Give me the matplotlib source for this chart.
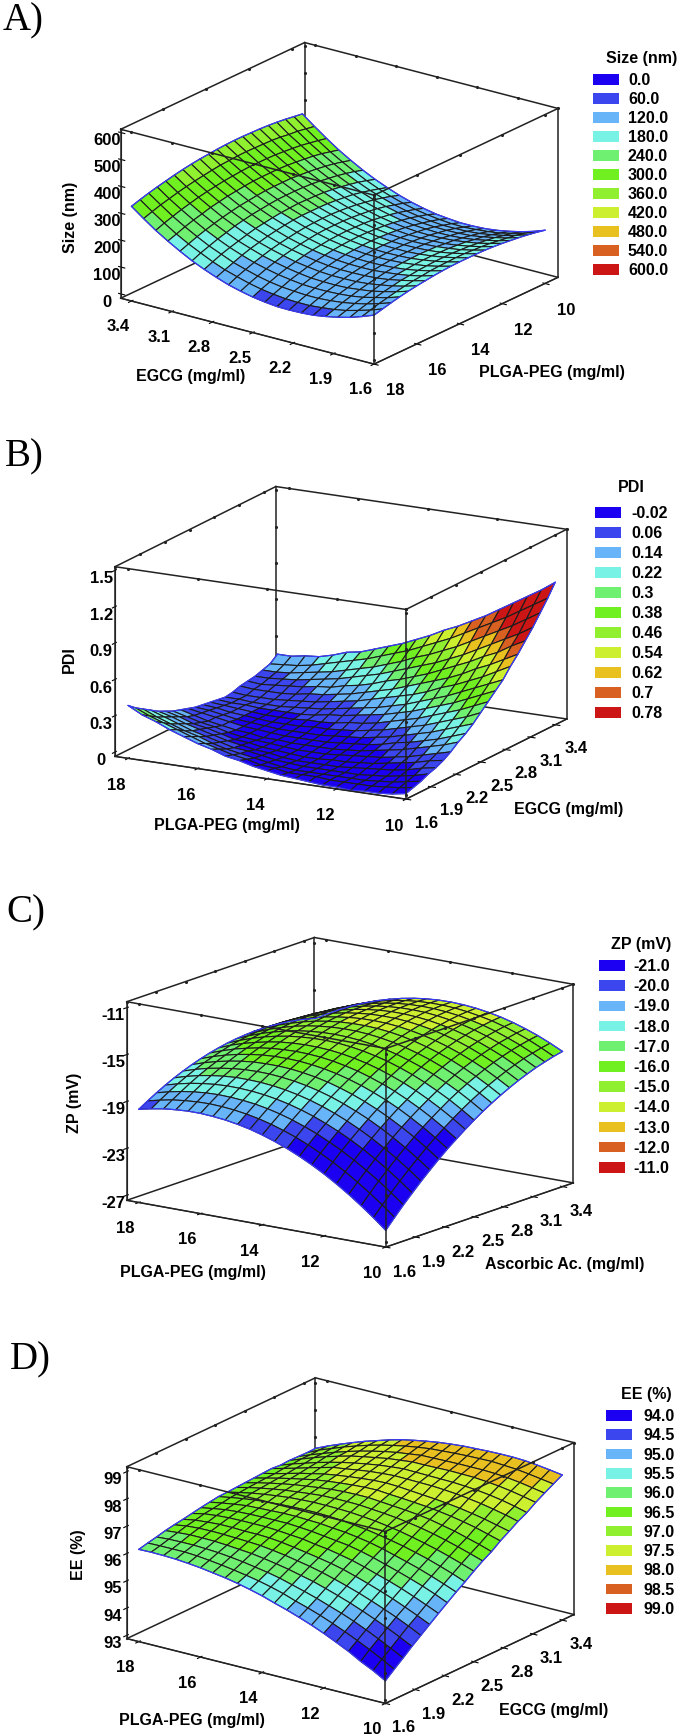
import matplotlib
matplotlib.use("Agg")
import matplotlib.pyplot as plt
import numpy as np
from matplotlib.colors import BoundaryNorm, ListedColormap
from matplotlib.patches import Patch
from mpl_toolkits.mplot3d import proj3d

W, H = 681, 1734
plt.rcParams['font.family'] = ['Liberation Sans', 'DejaVu Sans']
plt.rcParams['font.weight'] = 'bold'
plt.rcParams['font.size'] = 11

band_colors = ['#1c00f2', '#3c46ee', '#68b4f8', '#78f2e4', '#70f070', '#70f020',
               '#90f030', '#ccf030', '#e8c020', '#d86020', '#cc1515']

# surfaces, one row per y step, one column per x step
egcg_grid = [1.6, 1.69, 1.78, 1.87, 1.96, 2.05, 2.14, 2.23, 2.32, 2.41, 2.5,
             2.59, 2.68, 2.77, 2.86, 2.95, 3.04, 3.13, 3.22, 3.31, 3.4]
plga_grid = [10, 10.4, 10.8, 11.2, 11.6, 12, 12.4, 12.8, 13.2, 13.6, 14,
             14.4, 14.8, 15.2, 15.6, 16, 16.4, 16.8, 17.2, 17.6, 18]
size_nm = [
    [182, 166, 153, 143, 135, 130, 128, 128, 132, 137, 146, 157, 171, 188, 207, 229, 254, 281, 312, 345, 380],
    [189, 174, 162, 151, 145, 141, 138, 139, 143, 149, 157, 168, 182, 198, 217, 239, 263, 289, 319, 351, 385],
    [195, 181, 169, 160, 153, 149, 148, 148, 152, 158, 166, 177, 191, 207, 226, 247, 271, 297, 325, 357, 390],
    [200, 186, 176, 167, 160, 157, 156, 157, 160, 167, 175, 186, 199, 215, 233, 254, 277, 303, 331, 360, 394],
    [204, 191, 181, 172, 166, 163, 162, 164, 167, 173, 182, 193, 205, 222, 239, 259, 282, 307, 335, 365, 397],
    [208, 196, 185, 178, 172, 169, 168, 169, 173, 179, 187, 198, 211, 226, 244, 264, 286, 311, 338, 368, 399],
    [211, 199, 189, 181, 175, 173, 172, 173, 177, 183, 192, 202, 215, 230, 248, 268, 289, 314, 341, 369, 400],
    [213, 201, 191, 184, 179, 176, 175, 177, 180, 186, 195, 205, 218, 233, 250, 270, 292, 316, 342, 370, 401],
    [214, 203, 193, 185, 180, 178, 177, 178, 182, 188, 196, 207, 220, 234, 251, 271, 292, 316, 342, 371, 401],
    [214, 203, 193, 186, 181, 178, 178, 179, 183, 189, 197, 207, 220, 234, 252, 271, 292, 316, 342, 370, 400],
    [214, 202, 193, 186, 180, 178, 177, 178, 182, 188, 196, 207, 219, 234, 250, 270, 291, 315, 340, 368, 398],
    [213, 201, 191, 184, 179, 176, 175, 176, 180, 186, 194, 205, 217, 232, 248, 267, 288, 312, 337, 366, 395],
    [211, 199, 189, 181, 176, 173, 172, 173, 177, 183, 190, 201, 213, 228, 244, 263, 284, 308, 334, 362, 392],
    [208, 195, 185, 178, 173, 169, 168, 169, 172, 178, 186, 196, 208, 223, 239, 259, 280, 304, 329, 357, 388],
    [204, 192, 182, 173, 167, 164, 163, 163, 166, 172, 180, 190, 202, 217, 234, 253, 274, 298, 324, 352, 383],
    [200, 187, 176, 168, 161, 157, 156, 156, 159, 165, 172, 183, 195, 209, 226, 246, 267, 292, 318, 346, 377],
    [195, 181, 170, 160, 154, 149, 147, 148, 150, 156, 164, 174, 186, 201, 217, 237, 259, 283, 310, 339, 370],
    [189, 174, 163, 152, 145, 141, 139, 139, 141, 147, 154, 164, 176, 191, 208, 228, 250, 275, 302, 331, 363],
    [182, 167, 154, 144, 136, 131, 128, 128, 131, 135, 142, 152, 165, 179, 198, 217, 240, 265, 292, 323, 355],
    [174, 158, 145, 133, 125, 120, 116, 116, 118, 123, 130, 140, 153, 167, 185, 206, 228, 253, 282, 313, 346],
    [166, 149, 134, 123, 114, 107, 104, 103, 104, 109, 116, 126, 138, 154, 172, 192, 216, 242, 270, 302, 336]]
# PDI: columns run over plga_grid, rows over egcg_grid
pdi = [
    [0.01, -0.01, -0.02, -0.02, -0.03, -0.02, -0.02, -0.01, 0.00, 0.01, 0.03, 0.05, 0.08, 0.10, 0.14, 0.17, 0.21, 0.25, 0.30, 0.34, 0.40],
    [0.03, 0.01, 0.00, -0.01, -0.01, -0.01, -0.01, 0.00, 0.00, 0.00, 0.02, 0.03, 0.06, 0.08, 0.11, 0.14, 0.18, 0.22, 0.26, 0.30, 0.35],
    [0.05, 0.03, 0.01, 0.00, -0.01, -0.01, -0.01, -0.01, -0.01, -0.01, 0.00, 0.02, 0.04, 0.06, 0.08, 0.11, 0.15, 0.18, 0.22, 0.26, 0.31],
    [0.08, 0.05, 0.03, 0.01, 0.00, -0.01, -0.01, -0.01, -0.01, -0.01, 0.00, 0.01, 0.03, 0.05, 0.06, 0.09, 0.12, 0.15, 0.19, 0.23, 0.27],
    [0.10, 0.08, 0.05, 0.03, 0.02, 0.01, 0.00, -0.01, -0.01, -0.01, -0.01, 0.00, 0.02, 0.03, 0.05, 0.07, 0.10, 0.13, 0.16, 0.20, 0.23],
    [0.13, 0.11, 0.08, 0.06, 0.04, 0.02, 0.01, 0.00, 0.00, -0.01, -0.01, 0.00, 0.01, 0.02, 0.04, 0.05, 0.08, 0.11, 0.13, 0.17, 0.20],
    [0.17, 0.14, 0.11, 0.08, 0.06, 0.04, 0.03, 0.02, 0.01, 0.00, 0.00, 0.00, 0.01, 0.02, 0.03, 0.04, 0.06, 0.09, 0.11, 0.14, 0.17],
    [0.22, 0.18, 0.15, 0.12, 0.09, 0.07, 0.05, 0.03, 0.02, 0.01, 0.01, 0.01, 0.01, 0.02, 0.02, 0.04, 0.05, 0.07, 0.09, 0.12, 0.15],
    [0.26, 0.22, 0.18, 0.15, 0.12, 0.10, 0.07, 0.05, 0.04, 0.03, 0.02, 0.02, 0.02, 0.02, 0.03, 0.04, 0.05, 0.07, 0.09, 0.11, 0.13],
    [0.31, 0.27, 0.23, 0.19, 0.16, 0.13, 0.10, 0.08, 0.06, 0.05, 0.04, 0.03, 0.03, 0.03, 0.03, 0.04, 0.05, 0.06, 0.08, 0.10, 0.11],
    [0.37, 0.32, 0.28, 0.24, 0.20, 0.17, 0.14, 0.11, 0.09, 0.07, 0.06, 0.05, 0.05, 0.04, 0.04, 0.04, 0.05, 0.06, 0.07, 0.09, 0.10],
    [0.43, 0.38, 0.33, 0.29, 0.25, 0.21, 0.18, 0.15, 0.12, 0.10, 0.09, 0.07, 0.06, 0.06, 0.05, 0.05, 0.05, 0.06, 0.07, 0.08, 0.09],
    [0.49, 0.44, 0.39, 0.34, 0.30, 0.26, 0.22, 0.19, 0.16, 0.14, 0.12, 0.10, 0.09, 0.07, 0.06, 0.06, 0.06, 0.06, 0.07, 0.07, 0.08],
    [0.55, 0.50, 0.45, 0.40, 0.35, 0.31, 0.27, 0.23, 0.20, 0.17, 0.15, 0.13, 0.11, 0.09, 0.08, 0.07, 0.06, 0.06, 0.06, 0.07, 0.07],
    [0.63, 0.57, 0.51, 0.46, 0.41, 0.37, 0.32, 0.28, 0.25, 0.22, 0.19, 0.16, 0.14, 0.12, 0.10, 0.09, 0.08, 0.07, 0.07, 0.07, 0.08],
    [0.70, 0.64, 0.58, 0.53, 0.47, 0.42, 0.38, 0.34, 0.30, 0.26, 0.23, 0.20, 0.17, 0.15, 0.13, 0.12, 0.10, 0.09, 0.09, 0.09, 0.10],
    [0.78, 0.72, 0.65, 0.60, 0.54, 0.49, 0.44, 0.39, 0.35, 0.31, 0.28, 0.24, 0.21, 0.19, 0.16, 0.15, 0.13, 0.12, 0.11, 0.10, 0.11],
    [0.86, 0.79, 0.73, 0.67, 0.61, 0.55, 0.50, 0.45, 0.41, 0.37, 0.33, 0.29, 0.26, 0.23, 0.20, 0.18, 0.16, 0.14, 0.13, 0.12, 0.12],
    [0.95, 0.88, 0.81, 0.75, 0.69, 0.63, 0.57, 0.52, 0.47, 0.43, 0.38, 0.34, 0.30, 0.27, 0.24, 0.21, 0.19, 0.17, 0.15, 0.14, 0.14],
    [1.04, 0.97, 0.90, 0.83, 0.77, 0.71, 0.65, 0.59, 0.54, 0.49, 0.44, 0.40, 0.36, 0.32, 0.29, 0.26, 0.23, 0.20, 0.18, 0.17, 0.16],
    [1.14, 1.06, 0.99, 0.92, 0.85, 0.78, 0.72, 0.66, 0.61, 0.55, 0.50, 0.45, 0.41, 0.37, 0.33, 0.31, 0.27, 0.24, 0.23, 0.21, 0.21]]
zp_mv = [
    [-26.0, -25.11, -24.28, -23.51, -22.80, -22.14, -21.55, -21.02, -20.54, -20.13, -19.77, -19.47, -19.24, -19.06, -18.95, -18.88, -18.88, -18.95, -19.06, -19.25, -19.48],
    [-25.16, -24.29, -23.48, -22.73, -22.03, -21.40, -20.83, -20.31, -19.85, -19.46, -19.12, -18.84, -18.63, -18.47, -18.37, -18.32, -18.35, -18.43, -18.56, -18.77, -19.02],
    [-24.35, -23.50, -22.70, -21.98, -21.30, -20.68, -20.13, -19.63, -19.20, -18.82, -18.50, -18.24, -18.04, -17.91, -17.83, -17.80, -17.84, -17.94, -18.10, -18.32, -18.59],
    [-23.59, -22.76, -21.98, -21.27, -20.61, -20.01, -19.48, -19.00, -18.58, -18.22, -17.92, -17.68, -17.50, -17.38, -17.32, -17.31, -17.37, -17.49, -17.66, -17.90, -18.19],
    [-22.85, -22.04, -21.28, -20.59, -19.95, -19.37, -18.85, -18.39, -17.99, -17.65, -17.37, -17.15, -16.99, -16.89, -16.85, -16.85, -16.93, -17.07, -17.26, -17.52, -17.83],
    [-22.15, -21.36, -20.62, -19.94, -19.32, -18.76, -18.27, -17.83, -17.44, -17.12, -16.86, -16.66, -16.52, -16.43, -16.41, -16.44, -16.54, -16.70, -16.90, -17.18, -17.51],
    [-21.48, -20.71, -19.98, -19.33, -18.73, -18.19, -17.71, -17.29, -16.93, -16.62, -16.38, -16.20, -16.07, -16.01, -16.01, -16.05, -16.17, -16.35, -16.58, -16.87, -17.22],
    [-20.85, -20.10, -19.39, -18.76, -18.17, -17.65, -17.20, -16.79, -16.45, -16.16, -15.94, -15.78, -15.67, -15.63, -15.64, -15.71, -15.85, -16.04, -16.29, -16.60, -16.97],
    [-20.27, -19.53, -18.85, -18.23, -17.67, -17.16, -16.72, -16.34, -16.01, -15.75, -15.54, -15.39, -15.31, -15.28, -15.32, -15.40, -15.55, -15.77, -16.03, -16.37, -16.75],
    [-19.71, -18.99, -18.33, -17.73, -17.18, -16.70, -16.28, -15.91, -15.60, -15.36, -15.17, -15.04, -14.98, -14.97, -15.02, -15.12, -15.30, -15.53, -15.81, -16.15, -16.57],
    [-19.18, -18.48, -17.83, -17.26, -16.73, -16.26, -15.86, -15.51, -15.23, -15.00, -14.83, -14.72, -14.67, -14.69, -14.76, -14.88, -15.07, -15.32, -15.63, -16.00, -16.42],
    [-18.69, -18.01, -17.38, -16.82, -16.31, -15.87, -15.49, -15.16, -14.89, -14.68, -14.53, -14.44, -14.41, -14.44, -14.53, -14.67, -14.89, -15.16, -15.48, -15.87, -16.31],
    [-18.24, -17.58, -16.97, -16.43, -15.94, -15.51, -15.15, -14.84, -14.59, -14.40, -14.27, -14.20, -14.19, -14.24, -14.35, -14.51, -14.74, -15.03, -15.37, -15.78, -16.24],
    [-17.83, -17.19, -16.60, -16.07, -15.60, -15.19, -14.85, -14.56, -14.32, -14.15, -14.04, -13.99, -14.00, -14.06, -14.19, -14.37, -14.62, -14.93, -15.28, -15.71, -16.19],
    [-17.45, -16.83, -16.25, -15.75, -15.30, -14.91, -14.58, -14.31, -14.10, -13.94, -13.85, -13.82, -13.84, -13.93, -14.08, -14.27, -14.54, -14.87, -15.25, -15.69, -16.19],
    [-17.10, -16.50, -15.94, -15.46, -15.02, -14.65, -14.35, -14.09, -13.90, -13.76, -13.69, -13.68, -13.72, -13.83, -13.99, -14.21, -14.50, -14.84, -15.24, -15.70, -16.22],
    [-16.79, -16.21, -15.67, -15.21, -14.79, -14.44, -14.15, -13.92, -13.74, -13.63, -13.57, -13.57, -13.64, -13.77, -13.95, -14.19, -14.49, -14.86, -15.27, -15.75, -16.29],
    [-16.51, -15.94, -15.43, -14.98, -14.59, -14.25, -13.98, -13.77, -13.61, -13.51, -13.48, -13.50, -13.59, -13.73, -13.94, -14.19, -14.51, -14.90, -15.33, -15.84, -16.39],
    [-16.28, -15.73, -15.23, -14.81, -14.43, -14.11, -13.86, -13.66, -13.53, -13.45, -13.43, -13.47, -13.57, -13.74, -13.96, -14.23, -14.57, -14.97, -15.43, -15.95, -16.52],
    [-16.07, -15.54, -15.06, -14.65, -14.29, -13.99, -13.77, -13.59, -13.47, -13.41, -13.41, -13.47, -13.59, -13.77, -14.01, -14.31, -14.67, -15.09, -15.56, -16.10, -16.69],
    [-15.90, -15.39, -14.93, -14.54, -14.20, -13.92, -13.71, -13.55, -13.45, -13.41, -13.43, -13.51, -13.65, -13.85, -14.11, -14.42, -14.80, -15.24, -15.73, -16.29, -16.90]]
ee_pct = [
    [93.71, 93.97, 94.19, 94.45, 94.67, 94.88, 95.07, 95.24, 95.40, 95.54, 95.69, 95.81, 95.92, 96.01, 96.08, 96.15, 96.20, 96.24, 96.26, 96.27, 96.26],
    [93.98, 94.23, 94.47, 94.69, 94.90, 95.09, 95.27, 95.43, 95.57, 95.73, 95.86, 95.97, 96.06, 96.14, 96.21, 96.27, 96.32, 96.35, 96.35, 96.35, 96.34],
    [94.24, 94.48, 94.71, 94.93, 95.13, 95.31, 95.47, 95.63, 95.77, 95.90, 96.03, 96.13, 96.21, 96.29, 96.35, 96.40, 96.43, 96.45, 96.45, 96.44, 96.41],
    [94.51, 94.74, 94.96, 95.16, 95.35, 95.53, 95.69, 95.84, 95.98, 96.09, 96.20, 96.29, 96.37, 96.44, 96.48, 96.52, 96.55, 96.56, 96.56, 96.53, 96.49],
    [94.76, 94.99, 95.20, 95.39, 95.57, 95.74, 95.89, 96.03, 96.16, 96.27, 96.36, 96.45, 96.52, 96.58, 96.61, 96.63, 96.65, 96.66, 96.65, 96.62, 96.55],
    [95.01, 95.22, 95.42, 95.61, 95.78, 95.94, 96.09, 96.23, 96.34, 96.43, 96.51, 96.59, 96.66, 96.71, 96.73, 96.73, 96.75, 96.75, 96.72, 96.68, 96.60],
    [95.26, 95.46, 95.65, 95.83, 95.99, 96.13, 96.28, 96.41, 96.51, 96.60, 96.66, 96.74, 96.78, 96.82, 96.85, 96.85, 96.85, 96.84, 96.81, 96.76, 96.66],
    [95.50, 95.70, 95.88, 96.04, 96.19, 96.33, 96.47, 96.59, 96.69, 96.75, 96.81, 96.87, 96.91, 96.94, 96.94, 96.94, 96.93, 96.91, 96.87, 96.80, 96.72],
    [95.74, 95.92, 96.09, 96.25, 96.39, 96.52, 96.65, 96.76, 96.84, 96.91, 96.95, 97.00, 97.02, 97.04, 97.04, 97.02, 97.00, 96.98, 96.92, 96.85, 96.77],
    [95.96, 96.14, 96.30, 96.45, 96.58, 96.70, 96.80, 96.89, 96.97, 97.03, 97.08, 97.11, 97.13, 97.13, 97.12, 97.10, 97.07, 97.03, 96.97, 96.90, 96.82],
    [96.20, 96.36, 96.51, 96.65, 96.77, 96.88, 96.98, 97.06, 97.13, 97.18, 97.22, 97.24, 97.25, 97.25, 97.23, 97.20, 97.15, 97.09, 97.02, 96.93, 96.83],
    [96.42, 96.57, 96.71, 96.84, 96.96, 97.06, 97.14, 97.21, 97.26, 97.30, 97.34, 97.35, 97.35, 97.34, 97.30, 97.25, 97.20, 97.13, 97.05, 96.96, 96.85],
    [96.61, 96.76, 96.89, 97.02, 97.12, 97.22, 97.29, 97.34, 97.38, 97.42, 97.46, 97.46, 97.45, 97.42, 97.37, 97.31, 97.25, 97.17, 97.08, 96.98, 96.87],
    [96.85, 96.98, 97.11, 97.21, 97.30, 97.37, 97.43, 97.47, 97.51, 97.54, 97.58, 97.57, 97.54, 97.50, 97.45, 97.39, 97.30, 97.21, 97.11, 97.00, 96.89],
    [97.05, 97.16, 97.27, 97.36, 97.44, 97.50, 97.55, 97.59, 97.63, 97.67, 97.69, 97.67, 97.63, 97.58, 97.52, 97.45, 97.35, 97.25, 97.13, 97.01, 96.91],
    [97.26, 97.38, 97.48, 97.57, 97.64, 97.70, 97.74, 97.77, 97.78, 97.79, 97.80, 97.77, 97.73, 97.67, 97.60, 97.54, 97.42, 97.30, 97.17, 97.05, 96.93],
    [97.43, 97.55, 97.65, 97.73, 97.79, 97.83, 97.86, 97.87, 97.88, 97.89, 97.90, 97.86, 97.81, 97.74, 97.66, 97.57, 97.46, 97.34, 97.20, 97.06, 96.90],
    [97.65, 97.75, 97.84, 97.91, 97.96, 98.00, 98.01, 98.02, 98.01, 98.00, 98.00, 97.95, 97.90, 97.82, 97.74, 97.65, 97.53, 97.40, 97.25, 97.09, 96.92],
    [97.84, 97.92, 98.00, 98.06, 98.10, 98.12, 98.12, 98.12, 98.11, 98.10, 98.09, 98.03, 97.97, 97.89, 97.79, 97.68, 97.55, 97.41, 97.25, 97.09, 96.91],
    [98.02, 98.09, 98.16, 98.22, 98.25, 98.28, 98.27, 98.26, 98.24, 98.21, 98.18, 98.12, 98.05, 97.96, 97.86, 97.74, 97.60, 97.45, 97.28, 97.11, 96.90],
    [98.20, 98.27, 98.33, 98.38, 98.40, 98.40, 98.39, 98.37, 98.35, 98.31, 98.26, 98.19, 98.11, 98.02, 97.90, 97.76, 97.62, 97.46, 97.29, 97.11, 96.91]]

size_levels = [0.0, 60.0, 120.0, 180.0, 240.0, 300.0, 360.0, 420.0, 480.0, 540.0, 600.0]
pdi_levels = [-0.02, 0.06, 0.14, 0.22, 0.3, 0.38, 0.46, 0.54, 0.62, 0.7, 0.78]
zp_levels = [-21.0, -20.0, -19.0, -18.0, -17.0, -16.0, -15.0, -14.0, -13.0, -12.0, -11.0]
ee_levels = [94.0, 94.5, 95.0, 95.5, 96.0, 96.5, 97.0, 97.5, 98.0, 98.5, 99.0]

egcg_ticks = [1.6, 1.9, 2.2, 2.5, 2.8, 3.1, 3.4]
plga_ticks = [10, 12, 14, 16, 18]


def figpos(x, y):
    return x / W, 1 - y / H


def to_px(ax, x, y, z):
    xs, ys, _ = proj3d.proj_transform(x, y, z, ax.get_proj())
    px = ax.transData.transform((xs, ys))
    return px[0], H - px[1]


def draw_panel(letter, letter_xy, x, y, z, levels, xlim, ylim, zlim, xticks, yticks, zticks,
               view, aspect, corner_a, corner_b, xlabel, ylabel, zlabel, xlabel_xy, ylabel_xy,
               zlabel_xy, legend_title, title_xy, legend_left, legend_top, row_gap, text_gap,
               fmt, pads, zside):
    ax = fig.add_axes([0.1, 0.4, 0.8, 0.3], projection='3d', proj_type='ortho')
    ax.computed_zorder = False
    ax.patch.set_visible(False)
    ax.view_init(elev=view[0], azim=view[1])
    ax.set_xlim(*xlim)
    ax.set_ylim(*ylim)
    ax.set_zlim(*zlim)
    ax.set_box_aspect(aspect, zoom=1)

    # fit the box on its spot in the figure
    fig.canvas.draw()
    p1, p2 = to_px(ax, xlim[0], ylim[0], zlim[1]), to_px(ax, xlim[1], ylim[1], zlim[0])
    ax.set_box_aspect(aspect, zoom=(corner_b[0] - corner_a[0]) / (p2[0] - p1[0]))
    fig.canvas.draw()
    p1 = to_px(ax, xlim[0], ylim[0], zlim[1])
    pos = ax.get_position()
    ax.set_position([pos.x0 + (corner_a[0] - p1[0]) / W, pos.y0 - (corner_a[1] - p1[1]) / H,
                     pos.width, pos.height])

    for a in (ax.xaxis, ax.yaxis, ax.zaxis):
        a.set_pane_color((1, 1, 1, 0))
        a.pane.set_edgecolor((1, 1, 1, 0))
        a._axinfo['grid']['linewidth'] = 0
        a.line.set_color('#222222')
    ax.grid(False)
    ax.zaxis.set_ticks_position(zside)
    ax.set_xticks(xticks)
    ax.set_yticks(yticks)
    ax.set_zticks(zticks)
    ax.set_xticklabels([str(t) for t in xticks])
    ax.set_yticklabels([str(t) for t in yticks])
    ax.set_zticklabels([str(t) for t in zticks])
    ax.tick_params(axis='x', pad=pads[0], labelsize=12)
    ax.tick_params(axis='y', pad=pads[1], labelsize=12)
    ax.tick_params(axis='z', pad=pads[2], labelsize=12)

    # box edges: back ones behind the surface, front ones over it
    x0, x1 = xlim
    y0, y1 = ylim
    z0, z1 = zlim
    back = [([x0, x0], [y1, y1], [z0, z1]), ([x0, x0], [y0, y1], [z1, z1]), ([x0, x1], [y1, y1], [z1, z1]),
            ([x0, x0], [y0, y1], [z0, z0]), ([x0, x1], [y1, y1], [z0, z0])]
    front = [([x1, x1], [y0, y0], [z0, z1]), ([x0, x1], [y0, y0], [z1, z1]), ([x1, x1], [y0, y1], [z1, z1]),
             ([x0, x0], [y0, y0], [z0, z1]), ([x1, x1], [y1, y1], [z0, z1]),
             ([x0, x1], [y0, y0], [z0, z0]), ([x1, x1], [y0, y1], [z0, z0])]
    for e in back:
        ax.plot(*e, color='#222222', lw=1.1, zorder=1)
    for e in front:
        ax.plot(*e, color='#222222', lw=1.1, zorder=5)

    # small tick dots on the upper and back edges of the box
    n = len(xticks)
    ax.plot(xticks, [y0] * n, [z1] * n, ls='', marker='.', ms=2.5, color='#222222', zorder=5)
    ax.plot(xticks, [y1] * n, [z1] * n, ls='', marker='.', ms=2.5, color='#222222', zorder=1)
    n = len(yticks)
    ax.plot([x1] * n, yticks, [z1] * n, ls='', marker='.', ms=2.5, color='#222222', zorder=5)
    ax.plot([x0] * n, yticks, [z1] * n, ls='', marker='.', ms=2.5, color='#222222', zorder=1)
    n = len(zticks)
    ax.plot([x1] * n, [y0] * n, zticks, ls='', marker='.', ms=2.5, color='#222222', zorder=5)
    ax.plot([x0] * n, [y1] * n, zticks, ls='', marker='.', ms=2.5, color='#222222', zorder=1)

    X, Y = np.meshgrid(x, y)
    Z = np.array(z, dtype=float)
    step = levels[1] - levels[0]
    cmap = ListedColormap(band_colors)
    cmap.set_under(band_colors[0])
    cmap.set_over(band_colors[-1])
    norm = BoundaryNorm(levels + [levels[-1] + step], 11)
    ax.plot_surface(X, Y, Z, rstride=1, cstride=1, cmap=cmap, norm=norm,
                    edgecolor='#1c1c1c', linewidth=0.8, zorder=3)
    for line in ((X[0], Y[0], Z[0]), (X[-1], Y[-1], Z[-1]), (X[:, 0], Y[:, 0], Z[:, 0]), (X[:, -1], Y[:, -1], Z[:, -1])):
        ax.plot(*line, color='#3a3aff', lw=0.9, zorder=4)

    fig.text(*figpos(*letter_xy), letter, family='Liberation Serif', weight='normal', size=28, va='center')
    fig.text(*figpos(*xlabel_xy), xlabel, ha='center', va='center', size=11.5)
    fig.text(*figpos(*ylabel_xy), ylabel, ha='center', va='center', size=11.5)
    fig.text(*figpos(*zlabel_xy), zlabel, ha='center', va='center', rotation=90, size=11.5)
    fig.text(*figpos(*title_xy), legend_title, ha='center', va='center', size=11.5)

    handles = [Patch(facecolor=c, edgecolor='none') for c in band_colors]
    fs = 11.5
    em = fs * 100 / 72
    fig.legend(handles, [fmt(v) for v in levels], loc='upper left',
               bbox_to_anchor=figpos(legend_left, legend_top), frameon=False, fontsize=fs,
               borderpad=0, borderaxespad=0, handlelength=26 / em, handleheight=10 / em,
               handletextpad=text_gap / em, labelspacing=(row_gap - 0.62 - em * 0.9) / em)


fig = plt.figure(figsize=(W / 100, H / 100), dpi=100)

draw_panel('A)', (3, 21), egcg_grid, plga_grid, size_nm, size_levels, (3.48, 1.6), (18, 9.39), (-16, 612),
           egcg_ticks, plga_ticks, [0, 100, 200, 300, 400, 500, 600], (20.5, -53.4), (315, 308, 180),
           (120.7, 129.3), (558, 275), 'EGCG (mg/ml)', 'PLGA-PEG (mg/ml)', 'Size (nm)', (191, 376), (552, 372),
           (70, 217), 'Size (nm)', (642, 59), 593, 73, 19, 9, lambda v: f'{v:.1f}', (6, 8, -2), 'upper')

draw_panel('B)', (5, 457), plga_grid, egcg_grid, pdi, pdi_levels, (18.38, 10), (1.6, 3.54), (-0.036, 1.53),
           plga_ticks, egcg_ticks, [0, 0.3, 0.6, 0.9, 1.2, 1.5], (15.7, -61.5), (331, 337, 197),
           (115, 566.7), (566.8, 721), 'PLGA-PEG (mg/ml)', 'EGCG (mg/ml)', 'PDI', (227, 825), (569, 809),
           (69, 660), 'PDI', (631, 488), 595, 506, 20, 10, lambda v: f'{v:g}', (6, 6, -2), 'lower')

draw_panel('C)', (6, 913), plga_grid, egcg_grid, zp_mv, zp_levels, (18.39, 10), (1.6, 3.51), (-27.43, -10.49),
           plga_ticks, egcg_ticks, [-27, -23, -19, -15, -11], (14.4, -54), (320, 319, 205),
           (126.8, 1001.7), (573.3, 1182.7), 'PLGA-PEG (mg/ml)', 'Ascorbic Ac. (mg/ml)', 'ZP (mV)', (193, 1273),
           (565, 1265), (75, 1103), 'ZP (mV)', (641, 945), 598.5, 959, 20.2, 9, lambda v: f'{v:.1f}', (6, 6, -2), 'lower')

draw_panel('D)', (10, 1360), plga_grid, egcg_grid, ee_pct, ee_levels, (18.39, 10), (1.6, 3.52), (92.88, 99.18),
           plga_ticks, egcg_ticks, [93, 94, 95, 96, 97, 98, 99], (20.1, -53.9), (320, 320, 183),
           (126.8, 1466.7), (574, 1614), 'PLGA-PEG (mg/ml)', 'EGCG (mg/ml)', 'EE (%)', (192, 1720), (554, 1711),
           (79, 1555), 'EE (%)', (646, 1394), 606, 1409, 19.3, 11, lambda v: f'{v:.1f}', (6, 6, -2), 'lower')

fig.savefig('out.png', dpi=100)
